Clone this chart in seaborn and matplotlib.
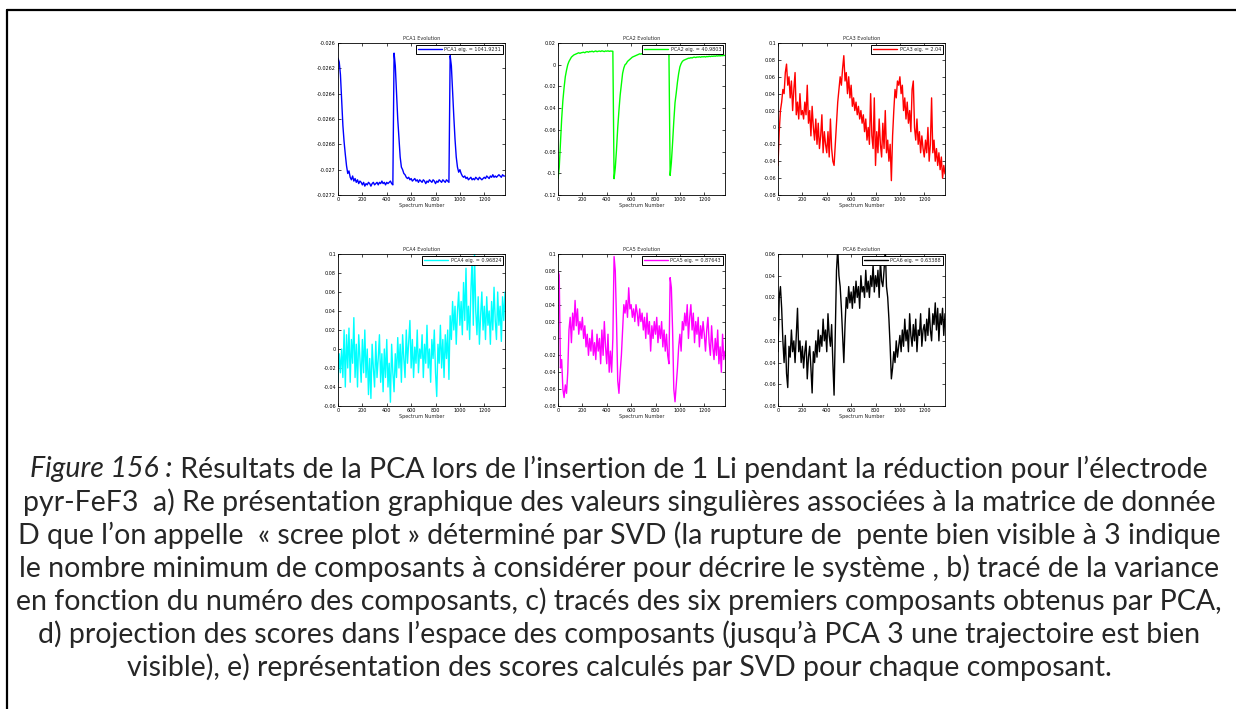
import numpy as np
import matplotlib
matplotlib.use("Agg")
import matplotlib.pyplot as plt
from matplotlib.lines import Line2D
from matplotlib.ticker import FuncFormatter, MultipleLocator
import seaborn as sns

# ------------------------------- Data ------------------------------------------------------
# spectrum index, one sample every 10 spectra
spectrum = np.arange(0, 1380, 10)

pca1 = [
    -0.02612, -0.02615, -0.02625, -0.02645, -0.02665, -0.02678, -0.02688, -0.02697, -0.02703, -0.02701,
    -0.02706, -0.02708, -0.02705, -0.02709, -0.02707, -0.02710, -0.02708, -0.02711, -0.02709, -0.02710,
    -0.02712, -0.02710, -0.02713, -0.02711, -0.02712, -0.02710, -0.02711, -0.02713, -0.02711, -0.02710,
    -0.02712, -0.02711, -0.02710, -0.02712, -0.02710, -0.02711, -0.02709, -0.02711, -0.02710, -0.02712,
    -0.02710, -0.02711, -0.02710, -0.02709, -0.02711, -0.02712,
    -0.02608, -0.02618, -0.02640, -0.02660, -0.02675, -0.02690, -0.02698, -0.02700, -0.02703, -0.02704,
    -0.02706, -0.02707, -0.02706, -0.02708, -0.02707, -0.02709, -0.02708, -0.02707, -0.02709, -0.02708,
    -0.02710, -0.02708, -0.02709, -0.02710, -0.02708, -0.02709, -0.02711, -0.02709, -0.02710, -0.02708,
    -0.02709, -0.02710, -0.02708, -0.02709, -0.02711, -0.02709, -0.02710, -0.02708, -0.02709, -0.02710,
    -0.02708, -0.02709, -0.02710, -0.02708, -0.02709, -0.02710,
    -0.02610, -0.02618, -0.02638, -0.02658, -0.02676, -0.02690, -0.02698, -0.02702, -0.02700, -0.02703,
    -0.02705, -0.02706, -0.02705, -0.02707, -0.02706, -0.02708, -0.02707, -0.02706, -0.02708, -0.02707,
    -0.02708, -0.02706, -0.02707, -0.02708, -0.02706, -0.02707, -0.02708, -0.02707, -0.02706, -0.02707,
    -0.02705, -0.02706, -0.02707, -0.02705, -0.02706, -0.02704, -0.02706, -0.02705, -0.02706, -0.02705,
    -0.02704, -0.02705, -0.02706, -0.02704, -0.02705, -0.02705,
]

pca2 = [
    -0.105, -0.095, -0.072, -0.050, -0.033, -0.021, -0.011, -0.005, 0.000, 0.003,
    0.005, 0.007, 0.008, 0.009, 0.0095, 0.010, 0.0105, 0.011, 0.0105, 0.011,
    0.0112, 0.0115, 0.011, 0.0118, 0.012, 0.0115, 0.0122, 0.012, 0.0125, 0.0118,
    0.0123, 0.0127, 0.012, 0.0124, 0.0126, 0.0122, 0.0128, 0.0125, 0.0121, 0.0127,
    0.0124, 0.0128, 0.0123, 0.0126, 0.0125, 0.0124,
    -0.105, -0.095, -0.078, -0.058, -0.042, -0.028, -0.018, -0.008, -0.003, 0.000,
    0.001, 0.003, 0.004, 0.005, 0.006, 0.007, 0.0075, 0.008, 0.0085, 0.009,
    0.0095, 0.010, 0.0098, 0.0102, 0.0105, 0.010, 0.0108, 0.011, 0.0106, 0.0112,
    0.011, 0.0114, 0.0112, 0.0116, 0.0113, 0.0118, 0.0115, 0.0118, 0.012, 0.0117,
    0.012, 0.0122, 0.0119, 0.0121, 0.0123, 0.012,
    -0.102, -0.090, -0.072, -0.052, -0.035, -0.026, -0.016, -0.008, -0.002, 0.001,
    0.003, 0.004, 0.0045, 0.005, 0.0055, 0.006, 0.006, 0.0065, 0.0062, 0.0068,
    0.007, 0.0066, 0.0071, 0.007, 0.0073, 0.0069, 0.0074, 0.0072, 0.0075, 0.0071,
    0.0076, 0.0074, 0.0078, 0.0075, 0.0079, 0.0077, 0.008, 0.0078, 0.0082, 0.008,
    0.0083, 0.0081, 0.0084, 0.0083, 0.0086, 0.0085,
]

pca3 = [
    -0.045, -0.005, 0.020, 0.030, 0.045, 0.040, 0.065, 0.075, 0.050, 0.060,
    0.035, 0.055, 0.020, 0.045, 0.065, 0.015, 0.030, 0.010, 0.040, 0.015,
    0.020, 0.010, 0.030, 0.015, 0.050, 0.005, 0.020, -0.010, 0.025, 0.000,
    -0.015, 0.010, -0.020, 0.005, -0.025, -0.010, 0.015, -0.030, -0.005, -0.020,
    -0.030, -0.005, -0.035, 0.010, -0.025, -0.040, -0.045, -0.020, 0.005, 0.030,
    0.045, 0.060, 0.050, 0.070, 0.085, 0.055, 0.065, 0.040, 0.060, 0.035,
    0.050, 0.025, 0.035, 0.020, 0.030, 0.015, 0.025, 0.010, 0.020, 0.005,
    0.015, -0.005, 0.010, -0.015, 0.000, -0.020, 0.040, -0.010, -0.025, 0.035,
    -0.045, -0.005, -0.030, 0.010, -0.020, -0.035, 0.005, -0.025, 0.020, -0.030,
    -0.015, -0.040, -0.020, -0.063, -0.010, 0.020, 0.045, 0.035, 0.055, 0.050,
    0.060, 0.040, 0.050, 0.020, 0.035, 0.010, 0.030, 0.005, 0.020, -0.005,
    0.045, 0.055, 0.000, -0.015, 0.010, -0.020, -0.005, -0.030, -0.010, -0.025,
    -0.035, -0.015, -0.030, 0.000, -0.040, -0.020, 0.035, -0.030, -0.015, -0.040,
    -0.025, -0.045, -0.030, -0.050, -0.035, -0.060, -0.045, -0.055,
]

pca4 = [
    -0.035, -0.005, -0.025, 0.000, -0.030, 0.020, -0.040, 0.015, -0.020, 0.022,
    -0.035, 0.010, -0.015, 0.033, -0.030, 0.005, -0.040, 0.015, -0.010, -0.035,
    0.010, -0.025, 0.020, -0.030, 0.000, -0.048, -0.010, -0.052, 0.005, -0.020,
    -0.040, 0.008, -0.030, -0.010, 0.015, -0.035, -0.005, -0.045, 0.000, -0.030,
    0.010, -0.040, -0.015, -0.056, 0.005, -0.025, -0.045, -0.005, -0.030, 0.012,
    -0.020, 0.005, -0.035, 0.015, -0.010, -0.030, 0.020, -0.015, 0.008, 0.030,
    -0.020, 0.010, -0.030, 0.002, -0.015, 0.020, -0.025, 0.000, -0.010, 0.015,
    -0.030, 0.005, -0.015, 0.025, -0.020, 0.000, -0.035, 0.010, -0.010, 0.020,
    -0.025, -0.050, 0.005, -0.015, 0.025, -0.020, 0.010, -0.030, 0.015, -0.010,
    0.020, -0.032, 0.035, 0.010, 0.050, 0.020, 0.045, 0.005, 0.040, 0.060,
    0.025, 0.050, 0.015, 0.070, 0.030, 0.085, 0.020, 0.045, 0.010, 0.060,
    0.095, 0.025, 0.100, 0.040, 0.015, 0.055, 0.005, 0.035, 0.060, 0.020,
    0.045, 0.010, 0.055, 0.025, 0.040, 0.005, 0.050, 0.020, 0.065, 0.030,
    0.010, 0.060, 0.025, 0.045, 0.008, 0.055, 0.030, 0.060,
]

pca5 = [
    0.080, 0.075, -0.035, -0.025, -0.060, -0.070, -0.055, -0.065, -0.040, 0.010,
    0.025, -0.005, 0.030, 0.010, 0.045, 0.015, 0.035, 0.005, 0.020, 0.010,
    0.025, 0.000, 0.015, -0.010, 0.005, -0.020, 0.000, -0.015, 0.010, -0.020,
    -0.005, -0.025, 0.005, -0.015, 0.000, -0.030, 0.010, -0.020, 0.020, -0.010,
    -0.030, 0.005, -0.040, -0.015, -0.040, 0.000, 0.097, 0.080, 0.020, -0.050,
    -0.065, -0.040, -0.020, 0.010, 0.040, 0.030, 0.045, 0.025, 0.060, 0.035,
    0.040, 0.025, 0.035, 0.020, 0.040, 0.030, 0.015, 0.035, 0.020, 0.030,
    0.010, 0.025, 0.000, 0.030, 0.005, 0.020, -0.015, 0.015, 0.000, 0.020,
    0.005, 0.025, -0.005, 0.015, 0.000, 0.020, -0.010, 0.010, -0.015, 0.005,
    -0.020, -0.030, 0.072, 0.060, 0.010, -0.060, -0.075, -0.055, -0.035, -0.010,
    0.005, -0.015, 0.020, 0.010, 0.030, 0.015, 0.040, 0.000, 0.025, 0.040,
    0.010, 0.030, -0.005, 0.020, 0.005, 0.025, -0.010, 0.015, 0.000, 0.020,
    0.005, -0.015, 0.010, 0.025, -0.005, -0.020, 0.015, -0.010, -0.025, 0.000,
    -0.020, 0.010, -0.030, -0.010, -0.040, 0.005, -0.025, -0.015,
]

pca6 = [
    -0.030, 0.020, 0.030, 0.010, -0.020, -0.040, -0.015, -0.050, -0.063, -0.025,
    -0.035, -0.010, -0.030, -0.020, -0.040, -0.015, 0.010, -0.030, -0.020, -0.040,
    -0.025, -0.045, -0.030, -0.020, -0.055, -0.035, -0.025, -0.045, -0.068, -0.030,
    -0.040, -0.020, -0.035, -0.010, -0.030, -0.015, -0.025, 0.000, -0.020, -0.010,
    -0.030, 0.005, -0.015, -0.025, -0.005, -0.040, -0.070, -0.010, 0.045, 0.065,
    0.040, 0.030, 0.010, -0.015, -0.040, -0.005, 0.020, 0.010, 0.030, 0.015,
    0.025, 0.010, 0.030, 0.015, 0.035, 0.020, 0.030, 0.010, 0.040, 0.025,
    0.030, 0.020, 0.045, 0.025, 0.035, 0.020, 0.040, 0.030, 0.050, 0.025,
    0.040, 0.030, 0.045, 0.020, 0.055, 0.035, 0.030, 0.045, 0.065, 0.030,
    0.020, 0.000, -0.025, -0.055, -0.045, -0.030, -0.040, -0.020, -0.035, -0.025,
    -0.015, -0.030, -0.010, -0.025, 0.000, -0.020, -0.010, -0.030, 0.005, -0.015,
    -0.025, -0.005, -0.020, 0.000, -0.030, -0.010, -0.015, 0.005, -0.025, -0.010,
    -0.005, -0.020, 0.000, -0.015, 0.010, -0.010, -0.020, 0.005, -0.005, 0.015,
    -0.010, 0.010, -0.020, 0.005, -0.005, 0.010, -0.015, 0.005,
]

names = ["PCA1", "PCA2", "PCA3", "PCA4", "PCA5", "PCA6"]
series = [pca1, pca2, pca3, pca4, pca5, pca6]
eigenvalues = ["1041.9231", "40.9803", "2.04", "0.96824", "0.87643", "0.63388"]
y_limits = [(-0.0272, -0.026), (-0.12, 0.02), (-0.08, 0.1), (-0.06, 0.1), (-0.08, 0.1), (-0.08, 0.06)]
y_steps = [0.0002, 0.02, 0.02, 0.02, 0.02, 0.02]
colors = ["#0000ff", "#00ff00", "#ff0000", "#00ffff", "#ff00ff", "#000000"]

caption_lines = [
    "Résultats de la PCA lors de l’insertion de 1 Li pendant la réduction pour l’électrode",
    "pyr-FeF3  a) Re présentation graphique des valeurs singulières associées à la matrice de donnée",
    "D que l’on appelle  « scree plot » déterminé par SVD (la rupture de  pente bien visible à 3 indique",
    "le nombre minimum de composants à considérer pour décrire le système , b) tracé de la variance",
    "en fonction du numéro des composants, c) tracés des six premiers composants obtenus par PCA,",
    "d) projection des scores dans l’espace des composants (jusqu’à PCA 3 une trajectoire est bien",
    "visible), e) représentation des scores calculés par SVD pour chaque composant.",
]
caption_prefix = "Figure 156 :"

# ------------------------------- Figure --------------------------------
sns.set_theme(style="ticks")
plt.rcParams["font.family"] = ["DejaVu Sans"]

W, H = 1236, 709
fig = plt.figure(figsize=(W / 100, H / 100), dpi=100)
fig.patch.set_facecolor("white")

col_left = [338, 558, 778]
row_top = [43, 254]
ax_w, ax_h = 167, 152
small = 3.5

for i, name in enumerate(names):
    r, c = divmod(i, 3)
    ax = fig.add_axes([col_left[c] / W, 1 - (row_top[r] + ax_h) / H, ax_w / W, ax_h / H])
    sns.lineplot(x=spectrum, y=series[i], ax=ax, color=colors[i], linewidth=1.0,
                 label=f"{name} eig. = {eigenvalues[i]}", estimator=None)
    ax.set_xlim(0, 1370)
    ax.set_ylim(*y_limits[i])
    ax.xaxis.set_major_locator(MultipleLocator(200))
    ax.yaxis.set_major_locator(MultipleLocator(y_steps[i]))
    ax.yaxis.set_major_formatter(FuncFormatter(lambda v, p: f"{round(v, 6):g}"))
    ax.tick_params(direction="in", top=True, right=True, length=2, width=0.5,
                   labelsize=small, pad=1.5, colors="black")
    for s in ax.spines.values():
        s.set_color("black")
        s.set_linewidth(0.6)
    ax.set_title(f"{name} Evolution", fontsize=small, pad=2.5)
    ax.set_xlabel("Spectrum Number", fontsize=small, labelpad=1)
    ax.set_ylabel("")
    ax.grid(False)
    leg = ax.legend(loc="upper right", fontsize=small, frameon=True, fancybox=False,
                    handlelength=5, borderpad=0.4, borderaxespad=0.4, handletextpad=0.5)
    leg.get_frame().set_edgecolor("black")
    leg.get_frame().set_linewidth(0.7)
    leg.get_frame().set_alpha(1)

# border lines (left and top)
fig.add_artist(Line2D([7 / W, 7 / W], [0, 1 - 10 / H], color="black", linewidth=1.6))
fig.add_artist(Line2D([7 / W, 1], [1 - 10 / H, 1 - 10 / H], color="black", linewidth=1.6))

# caption
renderer = fig.canvas.get_renderer()
cap_font = "Lato"
probe = fig.text(0, 0, caption_lines[2], fontsize=16, family=cap_font)
size = 16 * 1212 / probe.get_window_extent(renderer).width
probe.remove()

center_x = 619
for i, line in enumerate(caption_lines):
    y = 1 - (469 + 33 * i) / H
    if i == 0:
        t1 = fig.text(0, y, caption_prefix, fontsize=size, family=cap_font, style="italic", va="center")
        t2 = fig.text(0, y, " " + line, fontsize=size, family=cap_font, va="center")
        w1 = t1.get_window_extent(renderer).width
        w2 = t2.get_window_extent(renderer).width
        x0 = center_x - (w1 + w2) / 2
        t1.set_x(x0 / W)
        t2.set_x((x0 + w1) / W)
    else:
        fig.text(center_x / W, y, line, fontsize=size, family=cap_font, ha="center", va="center")

fig.savefig("out.png", dpi=100, facecolor="white")
